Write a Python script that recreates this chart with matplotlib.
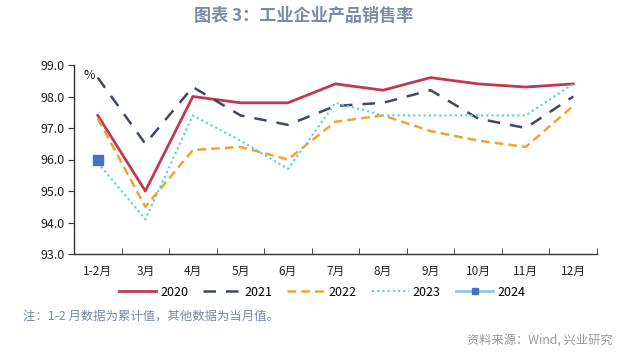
import matplotlib
matplotlib.use("Agg")
import matplotlib.pyplot as plt

plt.rcParams['font.family'] = ['Noto Sans CJK SC', 'DejaVu Sans']

months = ['1-2月', '3月', '4月', '5月', '6月', '7月', '8月', '9月', '10月', '11月', '12月']
y2020 = [97.4, 95.0, 98.0, 97.8, 97.8, 98.4, 98.2, 98.6, 98.4, 98.3, 98.4]
y2021 = [98.6, 96.5, 98.3, 97.4, 97.1, 97.7, 97.8, 98.2, 97.3, 97.0, 98.0]
y2022 = [97.3, 94.5, 96.3, 96.4, 96.0, 97.2, 97.4, 96.9, 96.6, 96.4, 97.7]
y2023 = [95.9, 94.1, 97.4, 96.6, 95.7, 97.8, 97.4, 97.4, 97.4, 97.4, 98.4]
y2024 = [96.0]

x = list(range(len(months)))

fig = plt.figure(figsize=(6.4, 3.56), dpi=100)
ax = fig.add_axes([74 / 640, 1 - 254 / 356, 523 / 640, 189 / 356])

ax.plot(x, y2020, color='#C0394F', lw=2.0, label='2020')
ax.plot(x, y2021, color='#3B4A68', lw=1.8, dashes=(5, 4), label='2021')
ax.plot(x, y2022, color='#F0A232', lw=1.8, dashes=(3.5, 2), label='2022')
ax.plot(x, y2023, color='#4FD2D8', lw=1.5, dashes=(1, 1.5), label='2023')
ax.plot(x[:len(y2024)], y2024, color='#9DC3E6', lw=2.0, marker='s', ms=7,
        markerfacecolor='#4472C4', markeredgecolor='#4472C4', label='2024')

ax.set_xlim(-0.5, 10.5)
ax.set_ylim(93, 99)
ax.set_yticks([93, 94, 95, 96, 97, 98, 99])
ax.set_yticklabels(['%.1f' % v for v in ax.get_yticks()], fontsize=9, color='#222222')
ax.set_xticks(x)
ax.set_xticklabels(months, fontsize=8.5, color='#222222')
ax.tick_params(axis='x', length=0, pad=8)
ax.set_xticks([i - 0.5 for i in range(len(months) + 1)], minor=True)
ax.tick_params(axis='x', which='minor', direction='in', length=4, color='#333333')
ax.tick_params(axis='y', direction='out', length=4, color='#333333', pad=3)

for s in ['top', 'right']:
    ax.spines[s].set_visible(False)
for s in ['left', 'bottom']:
    ax.spines[s].set_color('#333333')
    ax.spines[s].set_linewidth(1.0)

ax.text(0.018, 0.98, '%', transform=ax.transAxes, fontsize=9, va='top', ha='left', color='#222222')

fig.text(304 / 640, 1 - 16 / 356, '图表 3：工业企业产品销售率', ha='center', va='center',
         fontsize=12.3, fontweight='bold', color='#7A8BA3')

leg = fig.legend(loc='center', bbox_to_anchor=(322 / 640, 1 - 292 / 356), ncol=5, frameon=False,
                 fontsize=9, handlelength=3.0, columnspacing=1.2, handletextpad=0.3)
for h in leg.legend_handles:
    h.set_markersize(5)

fig.text(23 / 640, 1 - 316 / 356, '注：1-2 月数据为累计值，其他数据为当月值。', ha='left', va='center',
         fontsize=8.9, color='#7A8BA3')
fig.text(613 / 640, 1 - 340 / 356, '资料来源：Wind, 兴业研究', ha='right', va='center',
         fontsize=8.8, color='#999999')

fig.savefig('out.png', dpi=100, facecolor='white')
